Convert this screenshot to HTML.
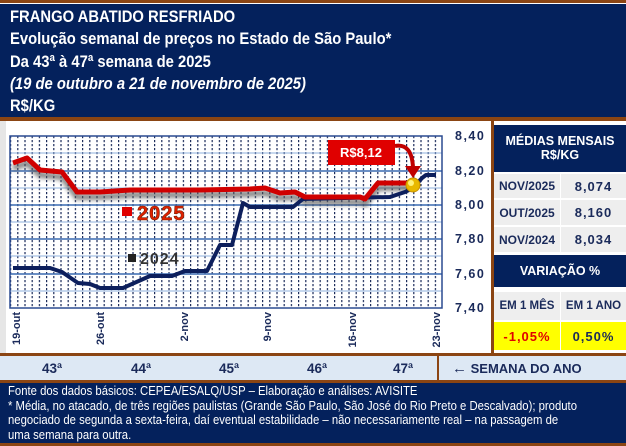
<!DOCTYPE html>
<html><head><meta charset="utf-8"><style>
*{margin:0;padding:0;box-sizing:border-box}
body{width:626px;height:446px;overflow:hidden;background:#fff;font-family:"Liberation Sans",Arial,sans-serif;position:relative}
.abs{position:absolute}
.hd{left:0;top:4px;width:626px;height:113px;background:#04215c;overflow:hidden}
.hdt{position:absolute;left:10px;top:2px;width:700px;color:#fff;font-weight:bold;font-size:17px;line-height:22.3px;transform:scaleX(0.87);transform-origin:0 0}
.br{background:#8b4513;left:0;width:626px}
.yl{left:455px;width:36px;font-weight:bold;font-size:12.5px;color:#1a2a5a;letter-spacing:1.5px}
.tb{left:494px;width:132px;background:#04215c;color:#fff;font-weight:bold;text-align:center;font-size:12.5px}
.cell{background:#eeeeee;color:#1a2a5a;font-weight:bold;font-size:12px;display:flex;align-items:center;justify-content:center}
.wk{top:357px;height:23px;font-weight:bold;font-size:13.5px;color:#1a2a5a;line-height:23px}
.ft{left:0;top:383px;width:626px;height:60px;background:#04215c}
.ftt{position:absolute;left:8px;top:1px;width:700px;color:#fff;font-size:13px;line-height:14.5px;transform:scaleX(0.87);transform-origin:0 0}
</style></head><body>
<div class="abs br" style="top:0;height:3px"></div>
<div class="abs hd"><div class="hdt">FRANGO ABATIDO RESFRIADO<br>Evolução semanal de preços no Estado de São Paulo*<br>Da 43ª à 47ª semana de 2025<br><i>(19 de outubro a 21 de novembro de 2025)</i><br>R$/KG</div></div>
<div class="abs br" style="top:117px;height:4px"></div>
<div class="abs" style="left:0;top:121px;width:6px;height:232px;background:#e6e6e6"></div>
<svg class="abs" style="left:0;top:121px" width="494" height="232" viewBox="0 121 494 232">
<defs><pattern id="vd" x="10" y="0" width="7.2" height="4" patternUnits="userSpaceOnUse"><rect x="0" y="0" width="1.2" height="2.2" fill="#1a2a5a"/></pattern>
<filter id="sh"><feGaussianBlur stdDeviation="2"/></filter></defs>
<rect x="10" y="136" width="432" height="172" fill="url(#vd)"/>
<g stroke="#3a6ab0" stroke-width="1.6"><line x1="10" y1="171" x2="442" y2="171"/><line x1="10" y1="205" x2="442" y2="205"/><line x1="10" y1="239" x2="442" y2="239"/><line x1="10" y1="274" x2="442" y2="274"/></g>
<g stroke="#8fb0dc" stroke-width="1"><line x1="10" y1="153" x2="442" y2="153"/><line x1="10" y1="188" x2="442" y2="188"/><line x1="10" y1="222" x2="442" y2="222"/><line x1="10" y1="256" x2="442" y2="256"/><line x1="10" y1="291" x2="442" y2="291"/></g>
<rect x="10" y="136" width="432" height="172" fill="none" stroke="#2a4a90" stroke-width="1.5"/>
<polyline fill="none" stroke="#555" stroke-width="6" filter="url(#sh)" opacity="0.7" points="13,168 27,163 40,175 62,177 77,197 100,197 130,195 200,195 250,194 265,193 280,198 295,197 305,202 360,202 365,204 378,188 410,188"/>
<polyline fill="none" stroke="#0d1f5c" stroke-width="4" stroke-linejoin="round" points="13,268 50,268 62,272 78,283 90,284 100,288 123,288 150,276 172,276 185,271 207,271 220,245 232,245 243,203 250,207 293,207 303,199 390,197 405,192 413,188 422,178 426,175 436,175"/>
<polyline fill="none" stroke="#d00000" stroke-width="5" stroke-linejoin="round" points="13,163 27,158 40,170 62,172 77,192 100,192 130,190 200,190 250,189 265,188 280,193 295,192 305,197 360,197 365,199 378,183 410,183"/>
<circle cx="413" cy="185" r="7" fill="#e8b800" stroke="#c89000"/>
<circle cx="411" cy="183" r="3" fill="#fff27a"/>
<rect x="328" y="140" width="67" height="25" fill="#e00000"/>
<text x="361" y="157" fill="#fff" font-size="13" font-weight="bold" text-anchor="middle" font-family="Liberation Sans">R$8,12</text>
<path d="M395,146 Q412,143 413,168" fill="none" stroke="#c00000" stroke-width="4"/>
<polygon points="405,166 421,166 413,178" fill="#c00000"/>
<rect x="122" y="207" width="10" height="9" fill="#e00000"/>
<text x="137" y="220" font-size="20" font-weight="bold" fill="#e02000" stroke="#7a2000" stroke-width="0.6" font-family="Liberation Sans" letter-spacing="1">2025</text>
<rect x="128" y="254" width="8" height="8" fill="#222"/>
<text x="140" y="264" font-size="16" font-weight="bold" fill="#333" font-family="Liberation Sans" letter-spacing="1">2024</text>
<g font-size="11" font-weight="bold" fill="#1a2a5a" font-family="Liberation Sans" text-anchor="end">
<text transform="translate(20,312) rotate(-90)">19-out</text>
<text transform="translate(104,312) rotate(-90)">26-out</text>
<text transform="translate(188,312) rotate(-90)">2-nov</text>
<text transform="translate(271,312) rotate(-90)">9-nov</text>
<text transform="translate(356,312) rotate(-90)">16-nov</text>
<text transform="translate(440,312) rotate(-90)">23-nov</text>
</g>
</svg>
<div class="abs yl" style="top:129px">8,40</div>
<div class="abs yl" style="top:164px">8,20</div>
<div class="abs yl" style="top:198px">8,00</div>
<div class="abs yl" style="top:232px">7,80</div>
<div class="abs yl" style="top:267px">7,60</div>
<div class="abs yl" style="top:301px">7,40</div>
<div class="abs" style="left:491px;top:121px;width:3px;height:232px;background:#8b4513"></div>
<div class="abs tb" style="top:125px;height:47px;padding-top:9px;line-height:14px">MÉDIAS MENSAIS<br>R$/KG</div>
<div class="abs cell" style="left:494px;top:174px;width:66px;height:24px">NOV/2025</div>
<div class="abs cell" style="left:561px;top:174px;width:65px;height:24px;font-size:13px;letter-spacing:1px">8,074</div>
<div class="abs cell" style="left:494px;top:200px;width:66px;height:25px">OUT/2025</div>
<div class="abs cell" style="left:561px;top:200px;width:65px;height:25px;font-size:13px;letter-spacing:1px">8,160</div>
<div class="abs cell" style="left:494px;top:227px;width:66px;height:25px">NOV/2024</div>
<div class="abs cell" style="left:561px;top:227px;width:65px;height:25px;font-size:13px;letter-spacing:1px">8,034</div>
<div class="abs tb" style="top:255px;height:32px;line-height:32px">VARIAÇÃO %</div>
<div class="abs cell" style="left:494px;top:292px;width:66px;height:28px;font-size:11.5px">EM 1 MÊS</div>
<div class="abs cell" style="left:561px;top:292px;width:65px;height:28px;font-size:11.5px">EM 1 ANO</div>
<div class="abs cell" style="left:494px;top:322px;width:66px;height:28px;background:#ffff00;color:#e00000;font-size:13px;letter-spacing:1px">-1,05%</div>
<div class="abs cell" style="left:561px;top:322px;width:65px;height:28px;background:#ffff00;font-size:13px;letter-spacing:1px">0,50%</div>
<div class="abs br" style="top:353px;height:3px"></div>
<div class="abs" style="left:0;top:356px;width:626px;height:25px;background:#dde8f4"></div>
<div class="abs" style="left:437px;top:356px;width:2px;height:25px;background:#8b4513"></div>
<div class="abs wk" style="left:42px">43ª</div>
<div class="abs wk" style="left:131px">44ª</div>
<div class="abs wk" style="left:219px">45ª</div>
<div class="abs wk" style="left:307px">46ª</div>
<div class="abs wk" style="left:393px">47ª</div>
<div class="abs wk" style="left:452px;font-size:13px"><span style="font-size:15px">←</span> SEMANA DO ANO</div>
<div class="abs br" style="top:380px;height:3px"></div>
<div class="abs ft"><div class="ftt">Fonte dos dados básicos: CEPEA/ESALQ/USP – Elaboração e análises: AVISITE<br>* Média, no atacado, de três regiões paulistas (Grande São Paulo, São José do Rio Preto e Descalvado); produto<br>negociado de segunda a sexta-feira, daí eventual estabilidade – não necessariamente real – na passagem de<br>uma semana para outra.</div></div>
<div class="abs br" style="top:443px;height:3px"></div>
</body></html>
